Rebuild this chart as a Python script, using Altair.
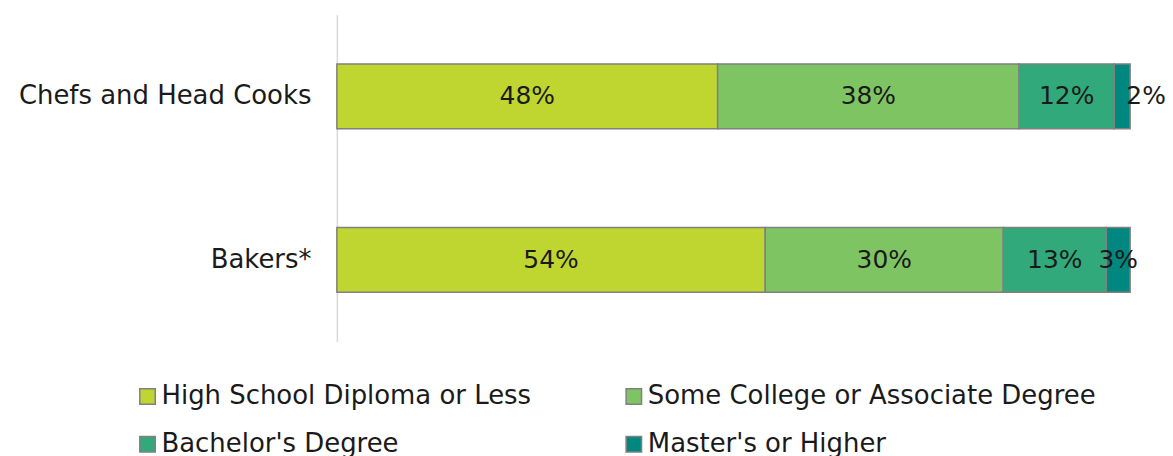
import altair as alt
import pandas as pd

occupations = ["Chefs and Head Cooks", "Bakers*"]
levels = ["High School Diploma or Less", "Some College or Associate Degree",
          "Bachelor's Degree", "Master's or Higher"]
chefs = [48, 38, 12, 2]
bakers = [54, 30, 13, 3]
colors = ["#BFD630", "#7FC462", "#31A97A", "#00877F"]
legend_order = [levels[0], levels[2], levels[1], levels[3]]

rows = []
for occ, vals in zip(occupations, [chefs, bakers]):
    for i, (lvl, v) in enumerate(zip(levels, vals)):
        rows.append({"occ": occ, "level": lvl, "order": i, "value": v,
                     "label": f"{v}%"})
df = pd.DataFrame(rows)

FONT = "DejaVu Sans"

base = alt.Chart(df).transform_stack(
    stack="value", groupby=["occ"], as_=["x0", "x1"],
    sort=[alt.SortField("order")]
).transform_calculate(mid="(datum.x0 + datum.x1) / 2")

y_enc = alt.Y("occ:N", sort=occupations, title=None,
              scale=alt.Scale(paddingInner=0, paddingOuter=0),
              axis=alt.Axis(domainColor="#d9d9d9", domainWidth=1.5, ticks=False,
                            labelFont=FONT, labelFontSize=26, labelColor="#1a1a1a",
                            labelPadding=26, labelLimit=330))

bars = base.mark_bar(size=65, stroke="#808080", strokeWidth=1.5).encode(
    x=alt.X("x0:Q", scale=alt.Scale(domain=[0, 100]), axis=None),
    x2="x1:Q",
    y=y_enc,
    color=alt.Color("level:N", sort=levels,
                    scale=alt.Scale(domain=levels, range=colors),
                    legend=alt.Legend(title=None, orient="none", columns=2,
                                      values=legend_order,
                                      legendX=-203, legendY=370,
                                      symbolType="square", symbolSize=240,
                                      symbolStrokeColor="#808080",
                                      symbolStrokeWidth=1.5, symbolOpacity=1,
                                      labelFont=FONT, labelFontSize=26,
                                      labelColor="#1a1a1a", labelOffset=1,
                                      labelLimit=600,
                                      columnPadding=90, rowPadding=22)),
    order=alt.Order("order:Q")
)

txt_main = base.transform_filter(
    "!(datum.occ == 'Chefs and Head Cooks' && datum.order == 3)"
).mark_text(font=FONT, fontSize=25, color="#1a1a1a").encode(
    x="mid:Q", y=alt.Y("occ:N", sort=occupations), text="label:N"
)
txt_small = base.transform_filter(
    "datum.occ == 'Chefs and Head Cooks' && datum.order == 3"
).mark_text(font=FONT, fontSize=25, color="#1a1a1a", dx=24).encode(
    x="mid:Q", y=alt.Y("occ:N", sort=occupations), text="label:N"
)

chart = alt.layer(bars, txt_main, txt_small).properties(
    width=796, height=328,
    autosize=alt.AutoSizeParams(type="none"),
    padding={"top": 6, "left": 330, "right": 35, "bottom": 114}
).configure_view(stroke=None)

chart.save("out.html", embed_options={"renderer": "svg", "actions": False})
